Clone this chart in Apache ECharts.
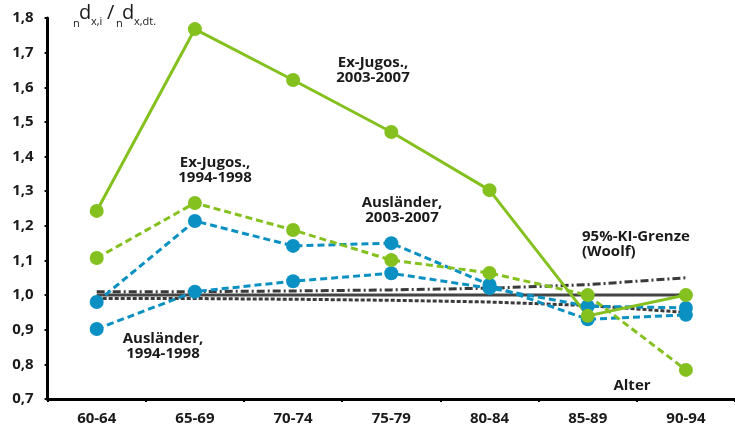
<!DOCTYPE html>
<html><head><meta charset="utf-8">
<script src="https://cdn.jsdelivr.net/npm/echarts@6/dist/echarts.min.js"></script>
<style>html,body{margin:0;padding:0;background:#fff}#c{width:735px;height:433px}</style>
</head><body><div id="c"></div>
<script>
const categories = ['60-64','65-69','70-74','75-79','80-84','85-89','90-94'];
const exJugos0307 = [1.243, 1.768, 1.621, 1.471, 1.303, 0.940, 1.000];
const exJugos9498 = [1.107, 1.266, 1.188, 1.101, 1.064, 1.000, 0.784];
const auslaender0307 = [0.980, 1.214, 1.142, 1.150, 1.030, 0.930, 0.943];
const auslaender9498 = [0.902, 1.010, 1.040, 1.063, 1.020, 0.968, 0.963];
const reference = [1.0, 1.0, 1.0, 1.0, 1.0, 1.0, 1.0];
const ciUpper = [1.010, 1.010, 1.012, 1.015, 1.020, 1.030, 1.050];
const ciLower = [0.990, 0.990, 0.988, 0.985, 0.980, 0.970, 0.950];
const yTicks = [0.7, 0.8, 0.9, 1.0, 1.1, 1.2, 1.3, 1.4, 1.5, 1.6, 1.7, 1.8];

const GREEN = '#84c11f', BLUE = '#0a90c2', DARK = '#3a3a3a';
const FONT = '"Open Sans", "DejaVu Sans", sans-serif';
const chart = echarts.init(document.getElementById('c'));

function line(name, data, color, type, width, sym) {
  return {
    name, type: 'line', data, symbol: sym ? 'circle' : 'none', symbolSize: 14,
    lineStyle: { color, width, type }, itemStyle: { color }, silent: true, animation: false
  };
}
function label(x, y, text, align) {
  return { type: 'text', x, y, style: { text, font: 'bold 15px ' + FONT, fill: '#1a1a1a', textAlign: align || 'center', textVerticalAlign: 'top', lineHeight: 15 } };
}
function piece(x, y, text, size) {
  return { type: 'text', x, y, style: { text, font: size + 'px ' + FONT, fill: '#1a1a1a', textVerticalAlign: 'top' } };
}

chart.setOption({
  animation: false,
  grid: { left: 47.6, top: 18, width: 692, bottom: 34 },
  xAxis: {
    type: 'category', data: categories, boundaryGap: true,
    axisLine: { lineStyle: { color: '#000', width: 3 } },
    axisTick: { show: true, length: 3, lineStyle: { color: '#000', width: 2 } },
    axisLabel: { color: '#1a1a1a', fontWeight: 'bold', fontSize: 15, fontFamily: FONT, margin: 12 }
  },
  yAxis: {
    type: 'value', min: 0.7, max: 1.8, interval: 0.1,
    axisLine: { show: true, lineStyle: { color: '#000', width: 3 } },
    axisTick: { show: true, length: 3, lineStyle: { color: '#000', width: 2 } },
    splitLine: { show: false },
    axisLabel: { color: '#1a1a1a', fontWeight: 'bold', fontSize: 15, fontFamily: FONT, margin: 14,
      formatter: v => { const t = yTicks.find(k => Math.abs(k - v) < 1e-6); return t === undefined ? '' : t.toFixed(1).replace('.', ','); } }
  },
  series: [
    line('CI upper', ciUpper, DARK, [8, 3, 2, 3], 3, false),
    line('Referenz', reference, '#454545', 'solid', 3, false),
    line('CI lower', ciLower, DARK, [4, 2], 3, false),
    line('Ausländer 2003-2007', auslaender0307, BLUE, [7, 4], 3, true),
    line('Ausländer 1994-1998', auslaender9498, BLUE, [7, 4], 3, true),
    line('Ex-Jugos. 1994-1998', exJugos9498, GREEN, [7, 4], 3, true),
    line('Ex-Jugos. 2003-2007', exJugos0307, GREEN, 'solid', 3, true)
  ],
  graphic: [
    piece(73, 18, 'n', 11), piece(79, 3, 'd', 20), piece(91, 16, 'x,i', 11),
    piece(107, 3, '/', 20),
    piece(116, 18, 'n', 11), piece(122, 3, 'd', 20), piece(134, 16, 'x,dt.', 11),
    label(373, 55, 'Ex-Jugos.,\n2003-2007'),
    label(215, 155, 'Ex-Jugos.,\n1994-1998'),
    label(402, 195, 'Ausländer,\n2003-2007'),
    label(582, 229, '95%-KI-Grenze\n(Woolf)', 'left'),
    label(163, 331, 'Ausländer,\n1994-1998'),
    label(632, 378, 'Alter')
  ]
});
</script></body></html>
